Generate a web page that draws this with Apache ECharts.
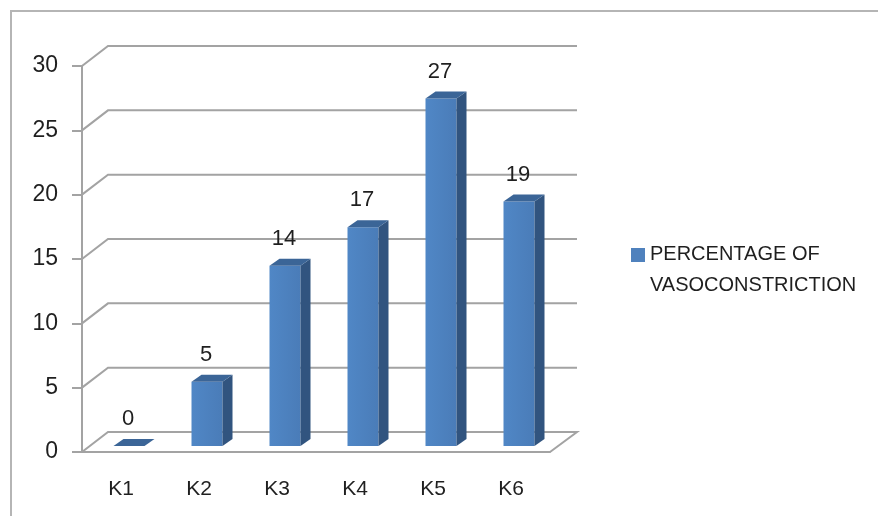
<!DOCTYPE html>
<html>
<head>
<meta charset="utf-8">
<script src="https://cdn.jsdelivr.net/npm/echarts@6/dist/echarts.min.js"></script>
<style>
html, body { margin: 0; padding: 0; background: #fff; }
#chart { width: 878px; height: 516px; }
</style>
</head>
<body>
<div id="chart"></div>
<script>
var categories = ["K1", "K2", "K3", "K4", "K5", "K6"];
var values = [0, 5, 14, 17, 27, 19];
var yTicks = [0, 5, 10, 15, 20, 25, 30];
var seriesName = "PERCENTAGE OF\nVASOCONSTRICTION";

// 3d look: back wall offset and bar depth
var wallDx = 26, wallDy = -20;
var barShiftX = 8, barShiftY = -6;
var barW = 31, depthX = 10, depthY = -7;
var textColor = '#1f1f1f';
var gridColor = '#a3a3a3';

function renderGrid(params, api) {
	var cs = params.coordSys;
	var v = api.value(0);
	var y = api.coord([0, v])[1];
	var x0 = cs.x, x1 = cs.x + cs.width;
	var pts = [[x0, y], [x0 + wallDx, y + wallDy], [x1 + wallDx + 1, y + wallDy]];
	if (v === 0) pts.push([x1, y]);
	return {
		type: 'polyline',
		shape: { points: pts },
		style: { stroke: gridColor, lineWidth: 2, fill: null }
	};
}

function renderBar(params, api) {
	var idx = api.value(0);
	var v = api.value(1);
	var base = api.coord([idx, 0]);
	var top = api.coord([idx, v]);
	var cx = base[0] + barShiftX;
	var L = cx - barW / 2, R = cx + barW / 2;
	var B = base[1] + barShiftY, T = top[1] + barShiftY;
	var children = [];
	if (B - T > 0) {
		children.push({
			type: 'rect',
			shape: { x: L, y: T, width: barW, height: B - T },
			style: {
				fill: new echarts.graphic.LinearGradient(0, 0, 1, 0, [
					{ offset: 0, color: '#5087c6' },
					{ offset: 1, color: '#4a7cb8' }
				])
			}
		});
		children.push({
			type: 'polygon',
			shape: { points: [[R, T], [R + depthX, T + depthY], [R + depthX, B + depthY], [R, B]] },
			style: { fill: '#31547f' }
		});
	}
	children.push({
		type: 'polygon',
		shape: { points: [[L, T], [L + depthX, T + depthY], [R + depthX, T + depthY], [R, T]] },
		style: { fill: '#3b6597' }
	});
	children.push({
		type: 'text',
		style: {
			text: String(v), x: cx - 1, y: T - 27,
			align: 'center', verticalAlign: 'middle',
			fontSize: 22, fontFamily: 'Liberation Sans, Arial', fill: textColor
		}
	});
	return { type: 'group', children: children };
}

var chart = echarts.init(document.getElementById('chart'));
chart.setOption({
	animation: false,
	backgroundColor: '#fff',
	graphic: [{
		type: 'rect',
		shape: { x: 11, y: 11, width: 900, height: 540 },
		style: { fill: null, stroke: '#b5b5b5', lineWidth: 2 },
		silent: true
	}],
	grid: { left: 82, top: 66, width: 468, bottom: 64 },
	legend: {
		left: 626, top: 234,
		icon: 'path://M0,0h14v14h-14z M0,44h0.01',
		itemWidth: 14, itemHeight: 44,
		itemGap: 6,
		data: [seriesName],
		textStyle: { fontSize: 20, lineHeight: 31, color: textColor, fontFamily: 'Liberation Sans, Arial' }
	},
	xAxis: {
		type: 'category',
		data: categories,
		axisLine: { lineStyle: { color: gridColor, width: 2 } },
		axisTick: { length: 8, lineStyle: { color: gridColor, width: 2 } },
		axisLabel: { margin: 27, fontSize: 21, color: textColor, fontFamily: 'Liberation Sans, Arial' },
		splitLine: { show: false }
	},
	yAxis: {
		type: 'value',
		min: 0, max: 30, interval: 5,
		axisLine: { show: true, lineStyle: { color: gridColor, width: 2 } },
		axisTick: { show: true, length: 10, lineStyle: { color: gridColor, width: 2 } },
		axisLabel: { margin: 24, fontSize: 23, color: textColor, fontFamily: 'Liberation Sans, Arial' },
		splitLine: { show: false }
	},
	series: [{
		type: 'custom',
		name: 'grid',
		silent: true,
		renderItem: renderGrid,
		data: yTicks.map(function (t) { return [t]; }),
		encode: { y: 0 },
		z: 1
	}, {
		type: 'custom',
		name: seriesName,
		itemStyle: { color: '#4f81bd' },
		renderItem: renderBar,
		data: values.map(function (v, i) { return [i, v]; }),
		encode: { x: 0, y: 1 },
		z: 3
	}]
});
</script>
</body>
</html>
